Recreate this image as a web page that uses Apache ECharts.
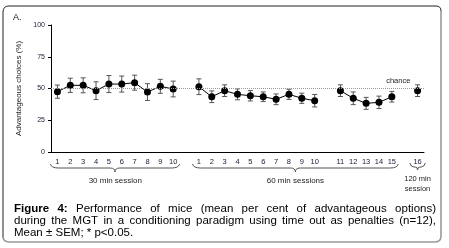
<!DOCTYPE html>
<html>
<head>
<meta charset="utf-8">
<script src="https://cdn.jsdelivr.net/npm/echarts@6/dist/echarts.min.js"></script>
<style>html,body{margin:0;padding:0;background:#fff;}#c{width:449px;height:248px;}</style>
</head>
<body>
<div id="c"></div>
<script>
// ---- data ----
const categories = ['1','2','3','4','5','6','7','8','9','10','',
  '1','2','3','4','5','6','7','8','9','10','',
  '11','12','13','14','15','',
  '16'];
const mean30 = [47.5,52.5,52.5,48.3,53.5,53.5,54.6,47.2,51.7,49.6];
const sem30  = [5.2,5.6,5.9,7.0,6.7,6.3,5.9,6.6,5.5,6.2];
const mean60a = [51.4,43.5,48.3,45.4,44.3,43.5,41.5,45.4,42.3,40.4];
const sem60a  = [6.2,4.6,4.6,4.3,4.1,3.8,4.2,4.0,4.0,4.9];
const mean60b = [48.3,42.3,38.3,39.1,43.5];
const sem60b  = [4.6,5.0,4.7,4.9,4.2];
const mean120 = [48.3];
const sem120  = [4.6];
const yTicks = [0,25,50,75,100];
const chanceLevel = 50;
const sessionLabels = ['30 min session','60 min sessions','120 min\nsession'];
const captionLines = [
  'Performance of mice (mean per cent of advantageous options)',
  'during the MGT in a conditioning paradigm using time out as penalties (n=12),',
  'Mean ± SEM; * p<0.05.'
];

// ---- build slot arrays ----
const groups = [[0,mean30,sem30],[11,mean60a,sem60a],[22,mean60b,sem60b],[28,mean120,sem120]];
const lineData = categories.map(()=>'-');
const errData = [];
groups.forEach(([start,m,s])=>{
  m.forEach((v,i)=>{ lineData[start+i]=v; errData.push([start+i, v-s[i], v+s[i]]); });
});

const FONT = '"Liberation Sans", Arial, sans-serif';
const labelColor = '#1a1a33';
const chart = echarts.init(document.getElementById('c'), null, {renderer:'canvas'});
chart.setOption({
  animation:false,
  backgroundColor:'#fff',
  grid:{left:51,right:25,top:25,bottom:96,containLabel:false},
  xAxis:{
    type:'category', data:categories, boundaryGap:true,
    axisLine:{lineStyle:{color:'#000',width:1}},
    axisTick:{inside:true,length:3,interval:0,lineStyle:{color:'#000'}},
    axisLabel:{interval:0,fontSize:7.5,fontFamily:FONT,color:labelColor,margin:6}
  },
  yAxis:{
    type:'value', min:0, max:100, interval:25,
    name:'Advantageous choices (%)', nameLocation:'middle', nameGap:22,
    nameTextStyle:{fontSize:8,fontFamily:FONT,color:'#222'},
    axisLine:{show:true,lineStyle:{color:'#000',width:1}},
    axisTick:{show:true,length:3,lineStyle:{color:'#000'}},
    axisLabel:{fontSize:7,fontFamily:FONT,color:labelColor,margin:6},
    splitLine:{show:false}
  },
  series:[
    {
      type:'custom', z:2,
      renderItem:function(params,api){
        const x=api.value(0);
        const lo=api.coord([x,api.value(1)]);
        const hi=api.coord([x,api.value(2)]);
        const w=2.5;
        const st={stroke:'#555',lineWidth:1};
        return {type:'group',children:[
          {type:'line',shape:{x1:lo[0],y1:lo[1],x2:hi[0],y2:hi[1]},style:st},
          {type:'line',shape:{x1:lo[0]-w,y1:lo[1],x2:lo[0]+w,y2:lo[1]},style:st},
          {type:'line',shape:{x1:hi[0]-w,y1:hi[1],x2:hi[0]+w,y2:hi[1]},style:st}
        ]};
      },
      encode:{x:0,y:[1,2]},
      data:errData
    },
    {
      type:'line', z:3, data:lineData, connectNulls:false,
      symbol:'circle', symbolSize:7,
      itemStyle:{color:'#000'},
      lineStyle:{color:'#000',width:1},
      markLine:{
        silent:true, symbol:'none',
        lineStyle:{color:'#999',type:'dotted',width:1},
        label:{show:false},
        data:[{yAxis:chanceLevel}]
      }
    }
  ]
});

// ---- annotations positioned from the axes ----
function px(idx){
  const a=chart.convertToPixel({xAxisIndex:0},0);
  const b=chart.convertToPixel({xAxisIndex:0},1);
  return a+(b-a)*idx;
}
const yChance = chart.convertToPixel({yAxisIndex:0},chanceLevel);
const braceStyle={stroke:'#555',fill:null,lineWidth:1};
function quad(x1,y1,cx,cy,x2,y2,st){return {type:'bezierCurve',shape:{x1:x1,y1:y1,x2:x2,y2:y2,cpx1:cx,cpy1:cy},style:st||braceStyle};}
function seg(x1,y1,x2,y2,st){return {type:'line',shape:{x1:x1,y1:y1,x2:x2,y2:y2},style:st||braceStyle};}
function brace(x0,x1,y0,r,d,h){
  const xm=(x0+x1)/2, y1=y0+d, y2=y0+d+h;
  return [
    quad(x0,y0,x0+1,y1,x0+r,y1),
    seg(x0+r,y1,xm-r*0.6,y1),
    quad(xm-r*0.6,y1,xm,y1,xm,y2),
    quad(xm,y2,xm,y1,xm+r*0.6,y1),
    seg(xm+r*0.6,y1,x1-r,y1),
    quad(x1-r,y1,x1-1,y1,x1,y0)
  ];
}

// justified caption layout
const cv=document.createElement('canvas').getContext('2d');
const capSize=11.5, capLeft=14, capRight=436;
function measure(t,bold){cv.font=(bold?'bold ':'')+capSize+'px '+FONT;return cv.measureText(t).width;}
const captionEls=[];
const lineYs=[209,221,233];
captionLines.forEach((ln,li)=>{
  const words=[];
  if(li===0){ words.push({t:'Figure',b:true}); words.push({t:'4:',b:true}); }
  ln.trim().split(' ').forEach(w=>words.push({t:w,b:false}));
  const justify = li<2;
  const total=words.reduce((s,w)=>s+measure(w.t,w.b),0);
  let space = justify ? (capRight-capLeft-total)/(words.length-1) : measure(' ',false);
  if(space<2) space=2;
  let x=capLeft;
  words.forEach(w=>{
    captionEls.push({type:'text',x:x,y:lineYs[li],style:{text:w.t,fontSize:capSize,fontFamily:FONT,
      fontWeight:w.b?'bold':'normal',fill:'#000',verticalAlign:'middle'}});
    x+=measure(w.t,w.b)+space;
  });
});

const dark={stroke:'#222',fill:null,lineWidth:1};
const gray={stroke:'#999',fill:null,lineWidth:1.6};
const braceY=164;
let g=[
  seg(3,238,3,12,dark), quad(3,12,3,6,9,6,dark), seg(9,6,436,6,dark), quad(436,6,441,6,441,11,dark),
  seg(441,11,441,236,gray), quad(441,236,441,242,435,242,gray), seg(435,242,9,242,gray), quad(9,242,3,242,3,236,gray),
  {type:'text',x:13,y:18,style:{text:'A.',fontSize:9,fontFamily:FONT,fill:'#111',verticalAlign:'middle'}},
  {type:'text',x:px(26.5),y:yChance-4,style:{text:'chance',fontSize:7.5,fontFamily:FONT,fill:'#222',align:'center',verticalAlign:'bottom'}},
  {type:'text',x:px(4.5),y:181,style:{text:sessionLabels[0],fontSize:8,fontFamily:FONT,fill:'#222',align:'center',verticalAlign:'middle'}},
  {type:'text',x:px(18.5),y:181,style:{text:sessionLabels[1],fontSize:8,fontFamily:FONT,fill:'#222',align:'center',verticalAlign:'middle'}},
  {type:'text',x:px(28),y:184,style:{text:sessionLabels[2],fontSize:7.5,fontFamily:FONT,fill:'#222',align:'center',verticalAlign:'middle',lineHeight:10}}
];
g=g.concat(brace(px(-0.55),px(9.5),braceY,8,4,4));
g=g.concat(brace(px(10.5),px(26.5),braceY,8,4,4));
g=g.concat(brace(px(27.4),px(28.6),braceY-1,4,4,3));
chart.setOption({graphic:g.concat(captionEls)});
</script>
</body>
</html>
